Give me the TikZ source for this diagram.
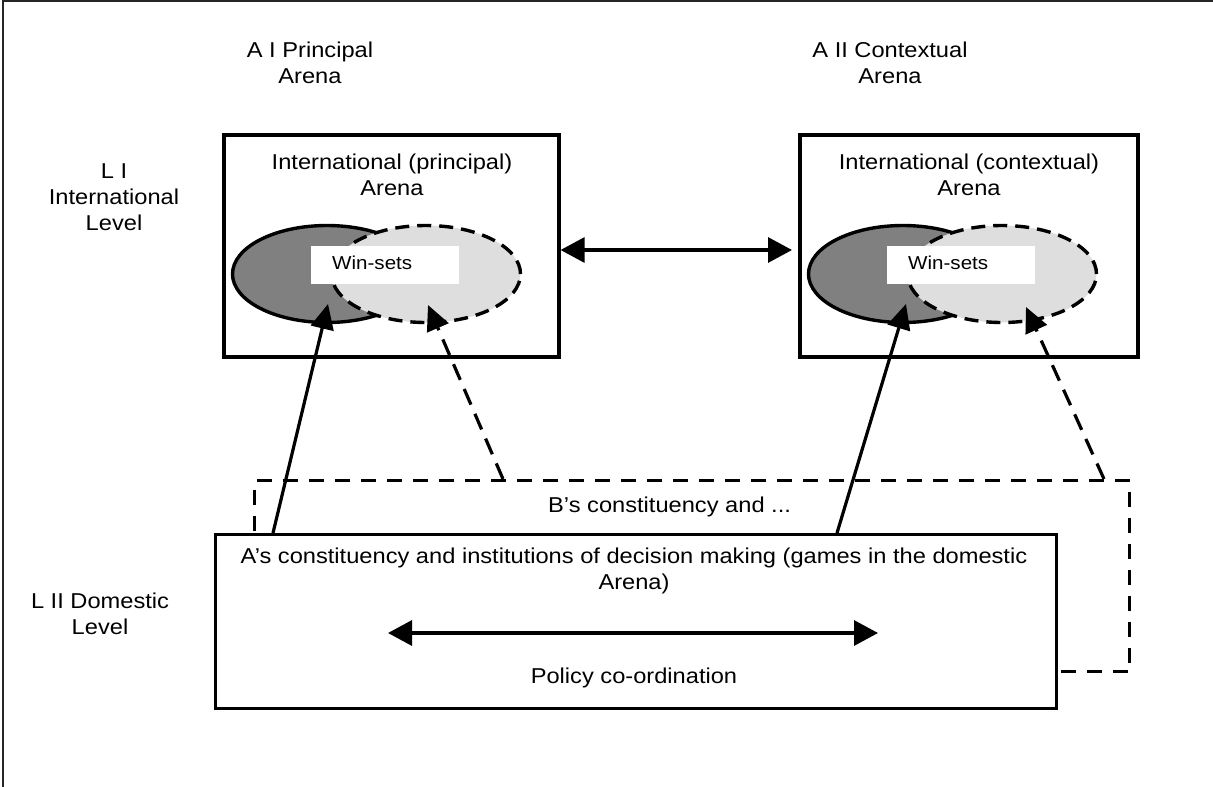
\documentclass[tikz,border=0pt]{standalone}
\usepackage{fontspec}
\setmainfont{Liberation Sans}[FakeStretch=1.1]
\usetikzlibrary{arrows.meta,shapes.geometric}
\begin{document}
\begin{tikzpicture}[x=1pt,y=-1pt,
  lbl/.style={font=\fontsize{21.5}{26}\selectfont, align=center, inner sep=0pt},
  small/.style={font=\fontsize{18.7}{22}\selectfont, inner sep=0pt},
  arena/.style={draw, line width=3.6pt, fill=white, inner sep=0pt, anchor=north west},
  dom/.style={draw, line width=3.2pt, fill=white, inner sep=0pt, anchor=north west},
  dbox/.style={draw, line width=3.2pt, dash pattern=on 15pt off 11pt, inner sep=0pt, anchor=north west},
  darkset/.style={ellipse, draw, line width=3.4pt, fill=black!50, minimum width=189pt, minimum height=97pt, inner sep=0pt},
  lightset/.style={ellipse, draw, line width=3.4pt, dash pattern=on 14pt off 8pt, fill=black!13, minimum width=189pt, minimum height=97pt, inner sep=0pt},
  winbox/.style={fill=white, minimum width=148pt, minimum height=38pt, inner sep=0pt, anchor=north west},
  tip/.style={-{Triangle[length=25pt,width=23pt]}},
  dtip/.style={{Triangle[length=24pt,width=25pt]}-{Triangle[length=24pt,width=25pt]}},
  conn/.style={line width=3.2pt},
  dconn/.style={line width=3.2pt, dash pattern=on 17pt off 10pt},
  frame/.style={line width=2.2pt, draw=black!85}
]
\useasboundingbox (0,0) rectangle (1213,787);
% outer frame (only left and top edges visible)
\coordinate (f1) at (3,787);
\coordinate (f2) at (3,1);
\coordinate (f3) at (1213,1);
\draw[frame] (f1) -- (f2) -- (f3);

% column headings
\node[lbl] (ha) at (310,63) {A I Principal\\Arena};
\node[lbl] (hb) at (890,63) {A II Contextual\\Arena};
% row headings
\node[lbl] (l1) at (114,197) {L I\\International\\Level};
\node[lbl] (l2) at (100,614) {L II Domestic\\Level};

% dashed B box (behind)
\node[dbox, minimum width=875pt, minimum height=191pt] (bbox) at (253,479) {};
\node[lbl, anchor=west] (btext) at (548,507) {B’s constituency and ...};

% domestic box
\node[dom, minimum width=841pt, minimum height=174pt] (abox) at (214,533) {};
\node[lbl] (atext) at (634,571) {A’s constituency and institutions of decision making (games in the domestic\\Arena)};
\node[lbl] (ptext) at (634,678) {Policy co-ordination};
\coordinate (pl) at (388,633);
\coordinate (pr) at (878,633);
\draw[conn, dtip] (pl) -- (pr);

% arena boxes
\node[arena, minimum width=335pt, minimum height=222pt] (box1) at (222,133) {};
\node[arena, minimum width=338pt, minimum height=222pt] (box2) at (798,133) {};
\node[lbl] (t1) at (392,175) {International (principal)\\Arena};
\node[lbl] (t2) at (969,175) {International (contextual)\\Arena};

% win-sets, box 1
\node[darkset] (d1) at (327,274) {};
\node[lightset] (w1) at (426,274) {};
\node[winbox] (wb1) at (311,246) {};
\node[small, anchor=west] (ws1) at (332,263) {Win-sets};
% win-sets, box 2
\node[darkset] (d2) at (903,274) {};
\node[lightset] (w2) at (1002,274) {};
\node[winbox] (wb2) at (887,246) {};
\node[small, anchor=west] (ws2) at (908,263) {Win-sets};

% arrow between arenas
\draw[conn, dtip] (box1.east |- 0,250) -- ([xshift=-6pt]box2.west |- 0,250);

% arrows from domestic level
\coordinate (s1) at (273,533);
\coordinate (e1) at (328,304);
\draw[conn, tip] (s1) -- (e1);
\coordinate (s2) at (503,479);
\coordinate (e2) at (428,305);
\draw[dconn, tip] (s2) -- (e2);
\coordinate (s3) at (837,533);
\coordinate (e3) at (906,304);
\draw[conn, tip] (s3) -- (e3);
\coordinate (s4) at (1104,479);
\coordinate (e4) at (1026,307);
\draw[dconn, tip] (s4) -- (e4);
\end{tikzpicture}
\end{document}
